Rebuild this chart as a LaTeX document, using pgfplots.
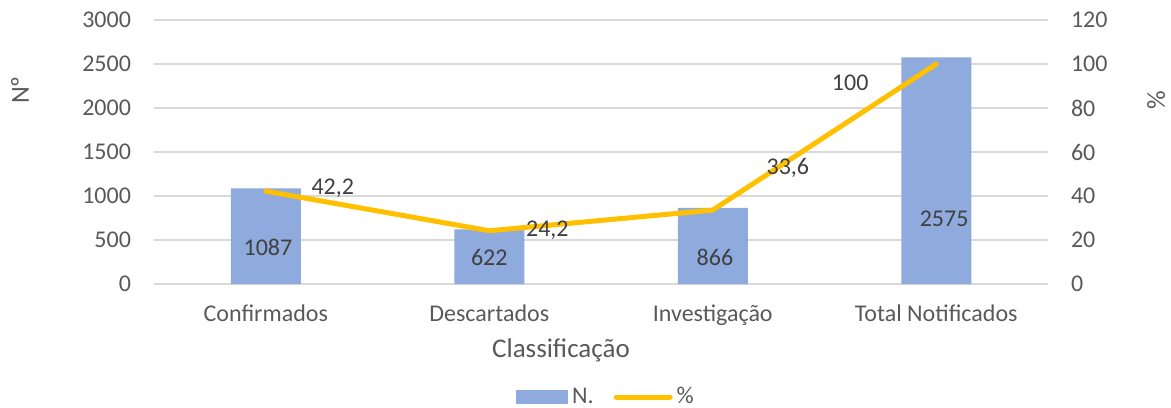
\documentclass[border=0pt]{standalone}
\usepackage{fontspec}
\setmainfont{Carlito}
\usepackage{pgfplots}
\pgfplotsset{compat=1.18}
\definecolor{barblue}{HTML}{8FAADC}
\definecolor{lineyel}{HTML}{FFC000}
\definecolor{txtgray}{HTML}{595959}
\definecolor{lblgray}{HTML}{404040}
\definecolor{gridgray}{HTML}{D9D9D9}

\begin{document}
\begin{tikzpicture}
\useasboundingbox (-77pt,-61.5pt) rectangle (508.5pt,142pt);
% bars: N.
\begin{axis}[
  at={(0,0)}, anchor=south west,
  scale only axis, width=447pt, height=132pt,
  xmin=-0.5, xmax=3.5, ymin=0, ymax=3000,
  ytick distance=500,
  xtick={0,1,2,3},
  xticklabels={Confirmados,Descartados,Investigação,Total Notificados},
  axis y line*=left, axis x line*=bottom,
  axis line style={draw=none},
  major tick length=0pt,
  ymajorgrids, grid style={gridgray, line width=1pt},
  tick label style={font=\fontsize{12}{14}\selectfont, color=txtgray},
  yticklabel style={xshift=-8pt},
  xticklabel style={yshift=-7pt},
  /pgf/number format/assume math mode=true,
  /pgf/number format/1000 sep={},
  clip=false,
]
\addplot[ybar, bar width=35pt, fill=barblue, draw=none]
  coordinates {(0,1087) (1,622) (2,866) (3,2575)};
\begin{scope}[every node/.style={font=\fontsize{12}{14}\selectfont, color=lblgray}]
\node at (axis cs:0.01,420) {1087};
\node at (axis cs:1,307) {622};
\node at (axis cs:2.01,307) {866};
\node at (axis cs:3.035,739) {2575};
\end{scope}
\end{axis}
% line: %
\begin{axis}[
  at={(0,0)}, anchor=south west,
  scale only axis, width=447pt, height=132pt,
  xmin=-0.5, xmax=3.5, ymin=0, ymax=120,
  ytick distance=20,
  axis y line*=right, axis x line=none,
  axis line style={draw=none},
  major tick length=0pt,
  tick label style={font=\fontsize{12}{14}\selectfont, color=txtgray},
  yticklabel style={xshift=8pt},
  /pgf/number format/assume math mode=true,
  clip=false,
  legend columns=2,
  legend style={at={(rel axis cs:0.5,0)}, anchor=center, yshift=-56.5pt, xshift=3pt,
    draw=none, fill=none, font=\fontsize{12}{14}\selectfont, text=txtgray,
    /tikz/every even column/.append style={column sep=8pt}},
]
\addlegendimage{area legend, fill=barblue, draw=none,
  legend image code/.code={\fill[barblue] (0pt,-3.5pt) rectangle (26pt,3.5pt);}}
\addlegendentry{N.}
\addplot[lineyel, line width=2.5pt, line cap=round, line join=round,
  legend image code/.code={\draw[lineyel, line width=2.5pt, line cap=round] (0pt,0pt) -- (27pt,0pt);}]
  coordinates {(0,42.2) (1,24.2) (2,33.6) (3,100)};
\addlegendentry{\%}
\begin{scope}[every node/.style={font=\fontsize{12}{14}\selectfont, color=lblgray}]
\node at (axis cs:0.30,43.6) {42,2};
\node at (axis cs:1.26,24.5) {24,2};
\node at (axis cs:2.336,52.7) {33,6};
\node at (axis cs:2.615,91.4) {100};
\end{scope}
\end{axis}
\node[rotate=90, font=\fontsize{13}{15}\selectfont, color=txtgray] at (-67pt,97pt) {N\char"00BA};
\node[rotate=90, font=\fontsize{13}{15}\selectfont, color=txtgray] at (501pt,92pt) {\%};
\node[font=\fontsize{13.5}{16}\selectfont, color=txtgray] at (203.5pt,-33pt) {Classificação};
\end{tikzpicture}
\end{document}
